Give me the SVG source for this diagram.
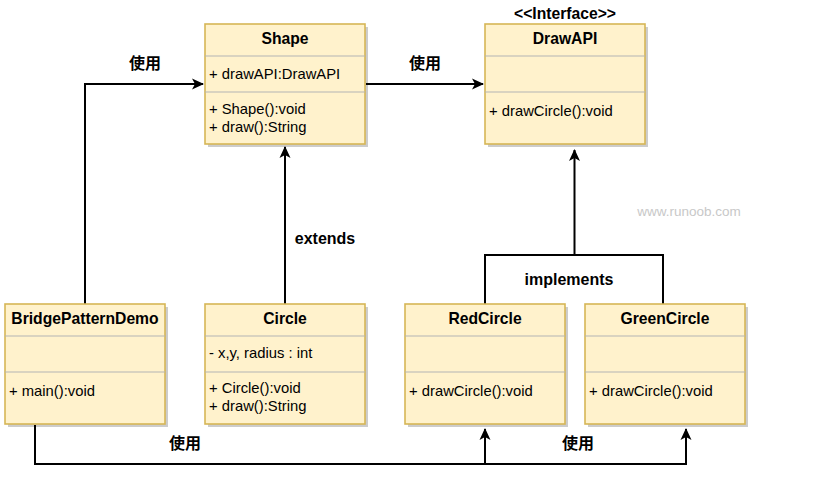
<svg xmlns="http://www.w3.org/2000/svg" width="826" height="487" viewBox="0 0 826 487">
<style>
.box{fill:#fff2cc;stroke:#d6b656;stroke-width:1.6}
.sh{fill:#000;opacity:0.2}
.div{stroke:#b3b3b3;stroke-width:1.2}
.t{font-family:"Liberation Sans",Arial,sans-serif;font-weight:bold;font-size:15.7px;text-anchor:middle;fill:#000}
.m{font-family:"Liberation Sans",Arial,sans-serif;font-size:14.8px;fill:#000}
.lb{font-family:"Liberation Sans","Noto Sans CJK SC",sans-serif;font-weight:bold;font-size:16px;text-anchor:middle;fill:#000}
.c{fill:none;stroke:#000;stroke-width:2}
</style>
<defs>
<marker id="ar" viewBox="0 0 12 12" refX="11" refY="6" markerWidth="12" markerHeight="12" markerUnits="userSpaceOnUse" orient="auto">
<path d="M0,0.5 L12,6 L0,11.5 L3,6 Z" fill="#000"/>
</marker>
</defs>
<rect width="826" height="487" fill="#fff"/>
<text x="689" y="216" font-family="Liberation Sans,Arial,sans-serif" font-size="13.5" fill="#c8c8c8" text-anchor="middle">www.runoob.com</text>

<g id="connectors">
<polyline class="c" points="85,304 85,84 203,84" marker-end="url(#ar)"/>
<line class="c" x1="366" y1="84" x2="483" y2="84" marker-end="url(#ar)"/>
<line class="c" x1="285" y1="304" x2="285" y2="147" marker-end="url(#ar)"/>
<polyline class="c" points="485,304 485,255 663,255 663,304"/>
<line class="c" x1="574.5" y1="255" x2="574.5" y2="150" marker-end="url(#ar)"/>
<polyline class="c" points="35,425 35,464 686,464 686,429" marker-end="url(#ar)"/>
<line class="c" x1="485" y1="464" x2="485" y2="429" marker-end="url(#ar)"/>
<text class="lb" x="145" y="69">使用</text>
<text class="lb" x="425" y="69">使用</text>
<text class="lb" x="325" y="244">extends</text>
<text class="lb" x="569" y="285">implements</text>
<text class="lb" x="185" y="449">使用</text>
<text class="lb" x="578" y="449">使用</text>
</g>

<g id="Shape">
<rect class="sh" x="208" y="27" width="160" height="120"/>
<rect class="box" x="205" y="24" width="160" height="120"/>
<line class="div" x1="205" y1="56" x2="365" y2="56"/>
<line class="div" x1="205" y1="92" x2="365" y2="92"/>
<text class="t" x="285" y="43.5">Shape</text>
<text class="m" x="209" y="79">+ drawAPI:DrawAPI</text>
<text class="m" x="209" y="114">+ Shape():void</text>
<text class="m" x="209" y="132">+ draw():String</text>
</g>

<g id="DrawAPI">
<text class="t" x="565" y="19">&lt;&lt;Interface&gt;&gt;</text>
<rect class="sh" x="488" y="27" width="160" height="120"/>
<rect class="box" x="485" y="24" width="160" height="120"/>
<line class="div" x1="485" y1="56" x2="645" y2="56"/>
<line class="div" x1="485" y1="92" x2="645" y2="92"/>
<text class="t" x="565" y="43.5">DrawAPI</text>
<text class="m" x="489" y="116">+ drawCircle():void</text>
</g>

<g id="BridgePatternDemo">
<rect class="sh" x="8" y="307" width="160" height="120"/>
<rect class="box" x="5" y="304" width="160" height="120"/>
<line class="div" x1="5" y1="336" x2="165" y2="336"/>
<line class="div" x1="5" y1="372" x2="165" y2="372"/>
<text class="t" x="85" y="323.5">BridgePatternDemo</text>
<text class="m" x="9" y="396">+ main():void</text>
</g>

<g id="Circle">
<rect class="sh" x="208" y="307" width="160" height="120"/>
<rect class="box" x="205" y="304" width="160" height="120"/>
<line class="div" x1="205" y1="336" x2="365" y2="336"/>
<line class="div" x1="205" y1="372" x2="365" y2="372"/>
<text class="t" x="285" y="323.5">Circle</text>
<text class="m" x="209" y="358">- x,y, radius : int</text>
<text class="m" x="209" y="393">+ Circle():void</text>
<text class="m" x="209" y="411">+ draw():String</text>
</g>

<g id="RedCircle">
<rect class="sh" x="408" y="307" width="160" height="120"/>
<rect class="box" x="405" y="304" width="160" height="120"/>
<line class="div" x1="405" y1="336" x2="565" y2="336"/>
<line class="div" x1="405" y1="372" x2="565" y2="372"/>
<text class="t" x="485" y="323.5">RedCircle</text>
<text class="m" x="409" y="396">+ drawCircle():void</text>
</g>

<g id="GreenCircle">
<rect class="sh" x="588" y="307" width="160" height="120"/>
<rect class="box" x="585" y="304" width="160" height="120"/>
<line class="div" x1="585" y1="336" x2="745" y2="336"/>
<line class="div" x1="585" y1="372" x2="745" y2="372"/>
<text class="t" x="665" y="323.5">GreenCircle</text>
<text class="m" x="589" y="396">+ drawCircle():void</text>
</g>
</svg>
